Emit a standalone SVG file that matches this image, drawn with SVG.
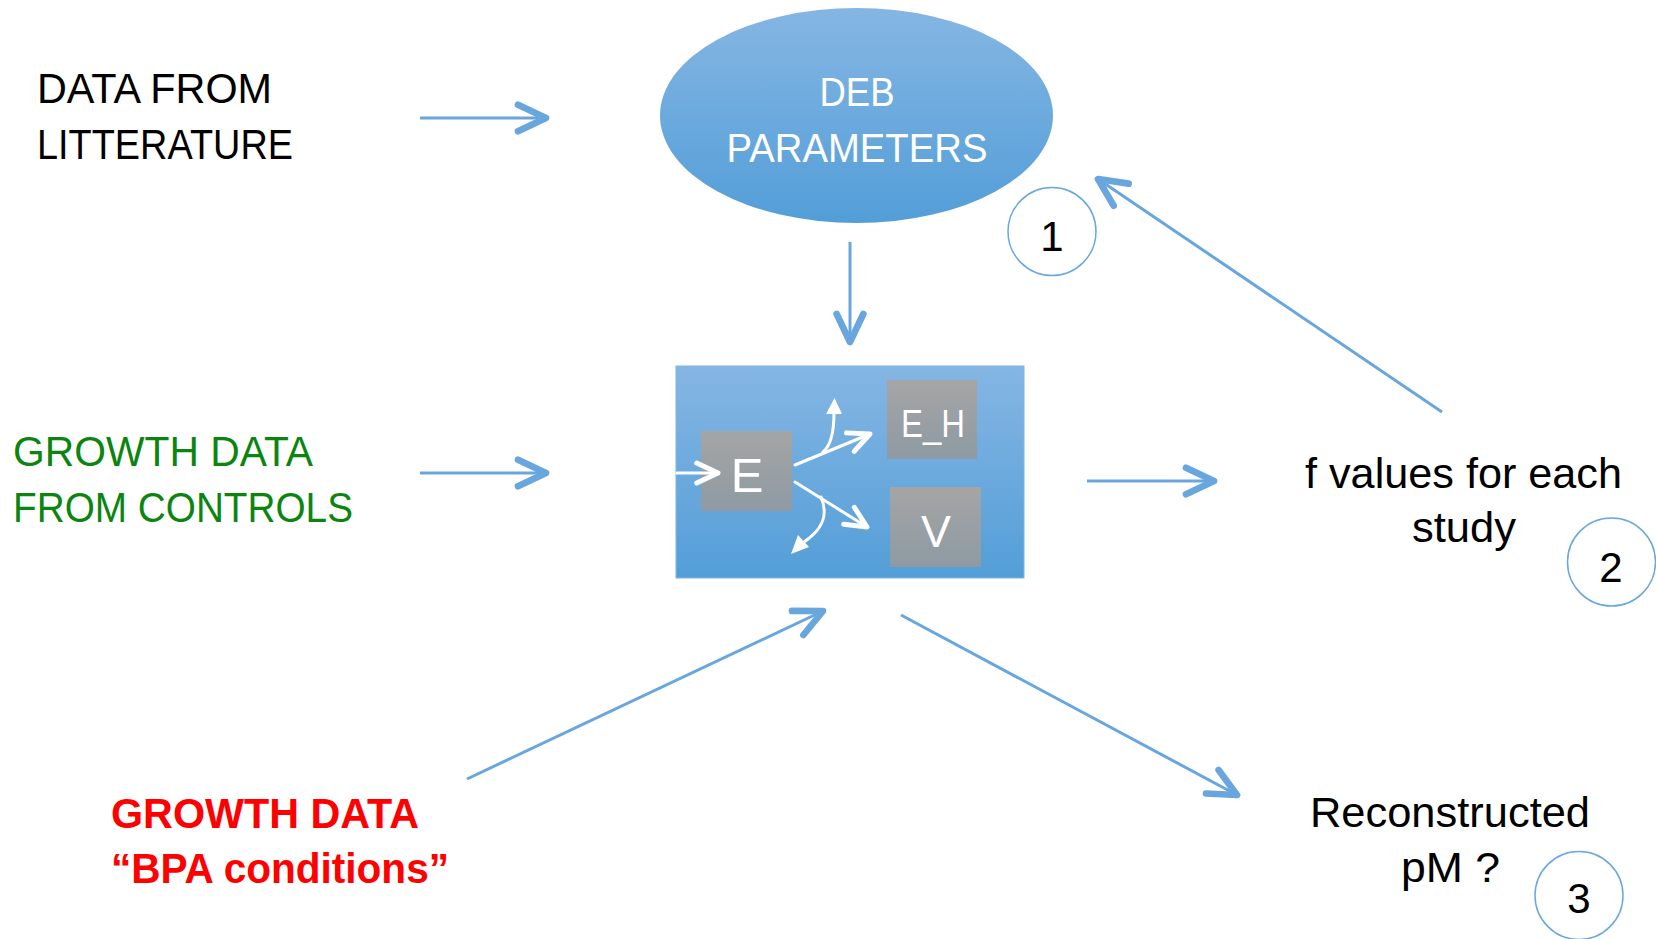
<svg xmlns="http://www.w3.org/2000/svg" width="1656" height="939" viewBox="0 0 1656 939">
<style>
text{font-family:"Liberation Sans",Arial,sans-serif}
.lbl{font-size:42px;fill:#000}
.green{font-size:42px;fill:#0b850f}
.red{font-size:42px;fill:#ff0000;font-weight:bold}
.wt{fill:#fff}
.conn{stroke:#68a6dd;stroke-width:3;fill:none}
.warr{stroke:#fff;stroke-width:3;fill:none;stroke-linecap:round}
.num{fill:#fff;stroke:#6aa8de;stroke-width:1.5}
</style>
<defs>
<linearGradient id="blue" x1="0" y1="0" x2="0" y2="1">
<stop offset="0" stop-color="#85b6e3"/>
<stop offset="1" stop-color="#539ed8"/>
</linearGradient>
<linearGradient id="gray" x1="0" y1="0" x2="0" y2="1">
<stop offset="0" stop-color="#a5a5a5"/>
<stop offset="1" stop-color="#8e9aa3"/>
</linearGradient>
<marker id="chev" markerUnits="userSpaceOnUse" markerWidth="40" markerHeight="40" refX="0" refY="0" viewBox="-26 -14 30 28" orient="auto" overflow="visible">
<path d="M-21,-10 L0,0 L-21,10" fill="none" stroke="#68a6dd" stroke-width="5" stroke-linecap="round" stroke-linejoin="round"/>
</marker>
<marker id="wchev" markerUnits="userSpaceOnUse" markerWidth="30" markerHeight="30" refX="0" refY="0" viewBox="-20 -12 24 24" orient="auto" overflow="visible">
<path d="M-17,-8 L0,0 L-17,8" fill="none" stroke="#fff" stroke-width="4" stroke-linecap="round" stroke-linejoin="round"/>
</marker>
</defs>

<g id="data-literature">
<text class="lbl" x="37" y="103" textLength="235" lengthAdjust="spacingAndGlyphs">DATA FROM</text>
<text class="lbl" x="37" y="159" textLength="256" lengthAdjust="spacingAndGlyphs">LITTERATURE</text>
</g>

<g id="growth-controls">
<text class="green" x="13" y="466" textLength="300" lengthAdjust="spacingAndGlyphs">GROWTH DATA</text>
<text class="green" x="13" y="522" textLength="340" lengthAdjust="spacingAndGlyphs">FROM CONTROLS</text>
</g>

<g id="growth-bpa">
<text class="red" x="111" y="828" textLength="308" lengthAdjust="spacingAndGlyphs">GROWTH DATA</text>
<text class="red" x="111" y="883" textLength="338" lengthAdjust="spacingAndGlyphs">“BPA conditions”</text>
</g>

<g id="deb-parameters">
<ellipse cx="856.5" cy="115.5" rx="196.5" ry="107.5" fill="url(#blue)"/>
<text class="wt" x="857" y="106" font-size="40" text-anchor="middle" textLength="75" lengthAdjust="spacingAndGlyphs">DEB</text>
<text class="wt" x="857" y="162" font-size="40" text-anchor="middle" textLength="261" lengthAdjust="spacingAndGlyphs">PARAMETERS</text>
</g>

<g id="badge-1">
<circle class="num" cx="1052" cy="231.5" r="44"/>
<text class="lbl" x="1052" y="251" text-anchor="middle">1</text>
</g>

<g id="deb-model">
<rect x="676" y="366" width="348" height="212" fill="url(#blue)" stroke="#7fb5e6" stroke-width="1"/>
<g id="box-E">
<rect x="701" y="431" width="91" height="80" fill="url(#gray)"/>
<text class="wt" x="747" y="492" font-size="49" text-anchor="middle">E</text>
</g>
<g id="box-EH">
<rect x="887" y="380" width="90" height="79" fill="url(#gray)"/>
<text class="wt" x="933" y="437" font-size="38" text-anchor="middle" textLength="64" lengthAdjust="spacingAndGlyphs">E_H</text>
</g>
<g id="box-V">
<rect x="890" y="487" width="91" height="80" fill="url(#gray)"/>
<text class="wt" x="936" y="547" font-size="45" text-anchor="middle">V</text>
</g>
<g id="inner-arrows">
<line class="warr" x1="677" y1="473" x2="718" y2="473" marker-end="url(#wchev)"/>
<line class="warr" x1="795" y1="465" x2="870" y2="434" marker-end="url(#wchev)"/>
<line class="warr" x1="795" y1="482" x2="867" y2="527" marker-end="url(#wchev)"/>
<path class="warr" d="M823,452 C832,445 834,430 834,412"/>
<polygon points="826,414 842,414 834.5,398" fill="#fff"/>
<path class="warr" d="M821,497 C829,516 822,530 804,542"/>
<polygon points="798,535 809,547 791,554" fill="#fff"/>
</g>
</g>

<g id="f-values">
<text class="lbl" x="1305" y="488" textLength="317" lengthAdjust="spacingAndGlyphs">f values for each</text>
<text class="lbl" x="1412" y="542" textLength="104" lengthAdjust="spacingAndGlyphs">study</text>
</g>

<g id="badge-2">
<circle class="num" cx="1611.5" cy="562" r="44"/>
<text class="lbl" x="1611" y="582" text-anchor="middle">2</text>
</g>

<g id="reconstructed">
<text class="lbl" x="1310" y="827" textLength="280" lengthAdjust="spacingAndGlyphs">Reconstructed</text>
<text class="lbl" x="1401" y="882" textLength="99" lengthAdjust="spacingAndGlyphs">pM ?</text>
</g>

<g id="badge-3">
<circle class="num" cx="1579" cy="895.5" r="44"/>
<text class="lbl" x="1579" y="913" text-anchor="middle">3</text>
</g>

<g id="connectors">
<line class="conn" x1="420" y1="118" x2="546" y2="118" marker-end="url(#chev)"/>
<line class="conn" x1="420" y1="473" x2="546" y2="473" marker-end="url(#chev)"/>
<line class="conn" x1="850" y1="242" x2="850" y2="342" marker-end="url(#chev)"/>
<line class="conn" x1="1087" y1="481" x2="1214" y2="481" marker-end="url(#chev)"/>
<line class="conn" x1="1442" y1="412" x2="1098" y2="179" marker-end="url(#chev)"/>
<line class="conn" x1="467" y1="779" x2="823" y2="611" marker-end="url(#chev)"/>
<line class="conn" x1="901" y1="615" x2="1237" y2="795" marker-end="url(#chev)"/>
</g>
</svg>
